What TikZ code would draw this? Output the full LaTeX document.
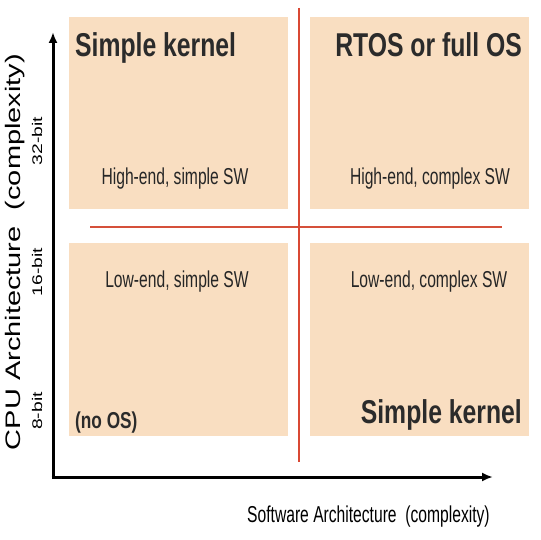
\documentclass[tikz,border=0pt]{standalone}
\usepackage{fontspec}
\usepackage{xcolor}
\usetikzlibrary{calc,arrows.meta}
\setmainfont{Liberation Sans}
\newfontfamily\condfont[FakeStretch=0.68]{Liberation Sans}
\newfontfamily\boldcond[FakeStretch=0.75]{Liberation Sans}
\newfontfamily\widefont[FakeStretch=1.38]{Liberation Sans}
\definecolor{peach}{HTML}{F9DEC1}
\definecolor{splitred}{HTML}{D5503A}
\definecolor{inkgray}{HTML}{2B2B2B}

\begin{document}
\begin{tikzpicture}[x=1pt,y=-1pt,
    quadbox/.style={fill=peach, draw=none, anchor=north west, minimum width=219pt, inner sep=0pt},
    bigtxt/.style={inner sep=0pt, text=inkgray, font=\boldcond\bfseries\fontsize{33}{33}\selectfont},
    smalltxt/.style={inner sep=0pt, anchor=base, text=black!85, font=\condfont\fontsize{23}{23}\selectfont},
    ticktxt/.style={inner sep=0pt, rotate=90, font=\widefont\fontsize{14}{14}\selectfont}]
    % 画布大小
    \useasboundingbox (0,0) rectangle (540,540);

    % 四个象限
    \node[quadbox, minimum height=192pt] (hiSimple) at (69,17) {};
    \node[quadbox, minimum height=192pt] (hiComplex) at (310,17) {};
    \node[quadbox, minimum height=193pt] (loSimple) at (69,243) {};
    \node[quadbox, minimum height=193pt] (loComplex) at (310,243) {};

    % 分隔线
    \coordinate (vTop) at (299,8);
    \coordinate (vBot) at (299,462);
    \coordinate (hLeft) at (90,227);
    \coordinate (hRight) at (502,227);
    \draw[splitred, line width=1.5pt] (hLeft) -- (hRight);
    \draw[splitred!90!red, line width=1.3pt] (vTop) -- (vBot);

    % 坐标轴
    \coordinate (origin) at (53,477);
    \coordinate (yEnd) at (53,32);
    \coordinate (xEnd) at (493,477);
    \draw[line width=3pt, -{Latex[length=11pt,width=9pt]}] ([yshift=1.5pt]origin) -- (yEnd);
    \draw[line width=3pt, -{Latex[length=11pt,width=9pt]}] ([xshift=-1.5pt]origin) -- (xEnd);

    % 象限标题
    \node[bigtxt, anchor=base west] (kernelTop) at (75,57) {Simple kernel};
    \node[bigtxt, anchor=base east] (rtos) at (522,57) {RTOS or full OS};
    \node[bigtxt, anchor=base west, font=\boldcond\bfseries\fontsize{23}{23}\selectfont] (noOS) at (75,428) {(no OS)};
    \node[bigtxt, anchor=base east] (kernelBot) at (522,423) {Simple kernel};

    % 象限说明
    \node[smalltxt] (hsLabel) at (175,184) {High-end, simple SW};
    \node[smalltxt] (hcLabel) at (430,184) {High-end, complex SW};
    \node[smalltxt] (lsLabel) at (177,287) {Low-end, simple SW};
    \node[smalltxt] (lcLabel) at (429,287) {Low-end, complex SW};

    % 轴标签
    \node[inner sep=0pt, anchor=base west, font=\condfont\fontsize{23}{23}\selectfont] (xLabel) at (247,522) {Software Architecture~ (complexity)};
    \node[inner sep=0pt, rotate=90, font=\widefont\fontsize{21}{21}\selectfont] (yLabel) at (15,252) {CPU Architecture~ (complexity)};
    \node[ticktxt] (bit32) at (37,141) {32-bit};
    \node[ticktxt] (bit16) at (37,272) {16-bit};
    \node[ticktxt] (bit8) at (37,411) {8-bit};
\end{tikzpicture}
\end{document}
